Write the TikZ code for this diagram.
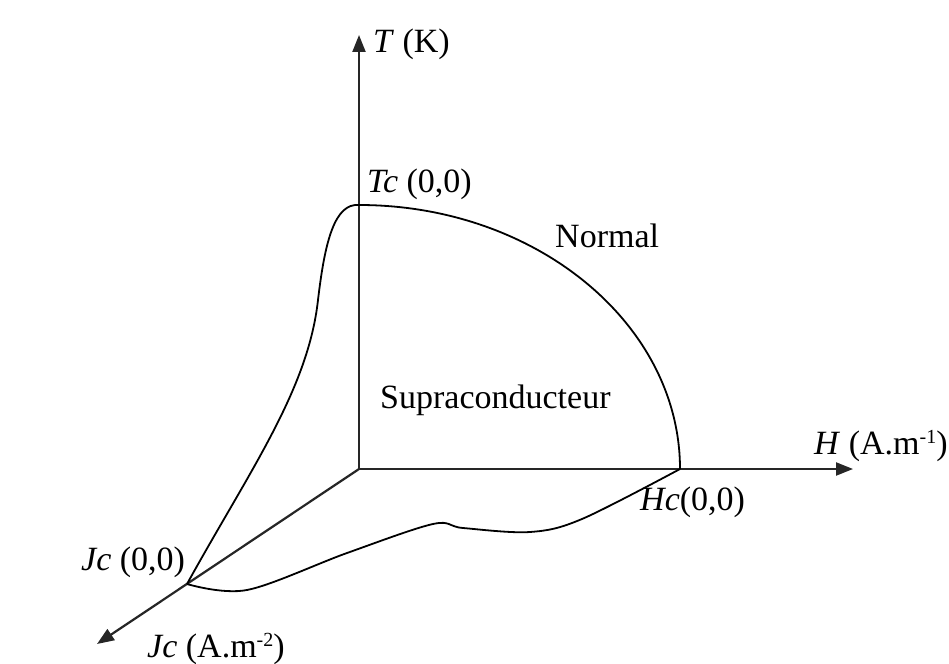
\documentclass[tikz,border=0pt]{standalone}
\usepackage{fontspec}
\setmainfont{Liberation Serif}
\usetikzlibrary{arrows.meta}
\begin{document}
\begin{tikzpicture}[x=1pt,y=-1pt,
  axis/.style={line width=2.2pt,draw=black!85,-{Triangle[length=17pt,width=13pt]}},
  curve/.style={line width=1.8pt,draw=black},
  lbl/.style={anchor=base west,inner sep=0pt,font=\fontsize{34}{40}\selectfont},
  sup/.style={}]
\useasboundingbox (0,0) rectangle (949,663);
\coordinate (O) at (359,469);
\coordinate (Ttip) at (359,35);
\coordinate (Htip) at (853,469);
\coordinate (Jtip) at (97,644);
\coordinate (Tc) at (359,205);
\coordinate (Hc) at (680,469);
\coordinate (Jc) at (187,584);
% axes
\draw[axis] (O) -- (Ttip);
\draw[axis] (O) -- (Htip);
\draw[axis] (O) -- (Jtip);
% T-H quarter
\draw[curve] (Tc) .. controls (536,205) and (680,324) .. (Hc);
% T-J curve
\draw[curve] (Tc) .. controls (335,203) and (325,240) .. (318,300)
  .. controls (308,390) and (250,470) .. (Jc);
% J-H curve
\draw[curve] plot[smooth,tension=0.55] coordinates {(Jc) (247,590) (347,553) (433,524) (463,528) (530,532) (582,519) (Hc)};
% labels
\node[lbl] (lblT) at (373,53) {\textit{T} (K)};
\node[lbl] (lblTc) at (367,192) {\textit{Tc} (0,0)};
\node[lbl] (lblN) at (555,247) {Normal};
\node[lbl] (lblS) at (380,408) {Supraconducteur};
\node[lbl] (lblH) at (814,454) {\textit{H} (A.m\raisebox{11pt}{\fontsize{20}{22}\selectfont -1})};
\node[lbl] (lblHc) at (640,510) {\textit{Hc}(0,0)};
\node[lbl] (lblJc) at (81,570) {\textit{Jc} (0,0)};
\node[lbl] (lblJ) at (147,657) {\textit{Jc} (A.m\raisebox{11pt}{\fontsize{20}{22}\selectfont -2})};
\end{tikzpicture}
\end{document}
